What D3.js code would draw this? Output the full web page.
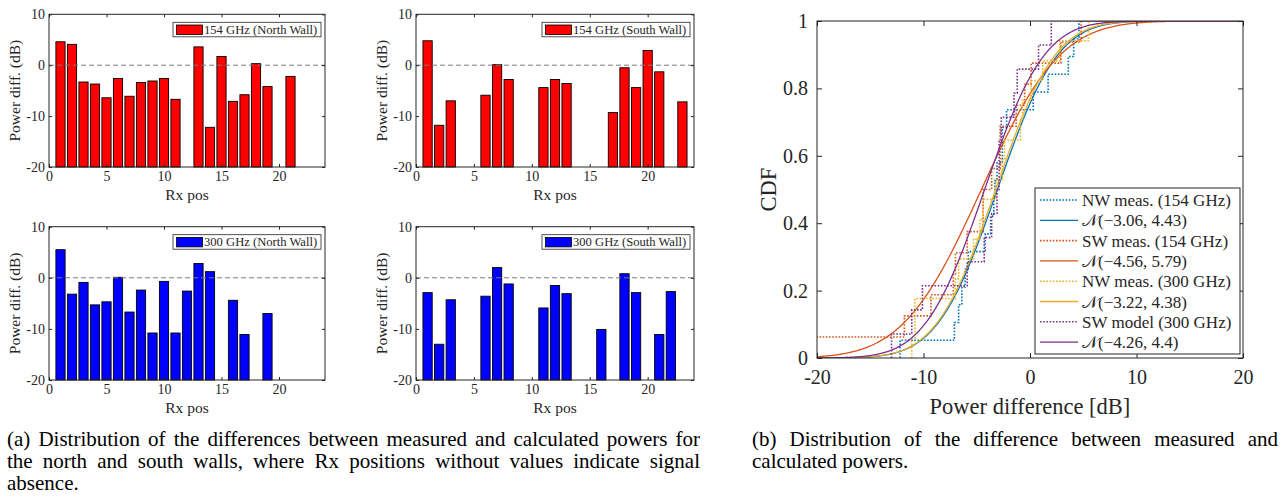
<!DOCTYPE html>
<html>
<head>
<meta charset="utf-8">
<script src="https://cdn.jsdelivr.net/npm/d3@7"></script>
<style>
  body { margin: 0; background: #fff; }
  text { font-family: "Liberation Serif", "Times New Roman", serif; fill: #262626; }
</style>
</head>
<body>
<svg id="fig" width="1286" height="499"></svg>
<script>
// ---- data ------------------------------------------------------------
// power difference (dB) per Rx position, starting at Rx pos 1 (null = no signal)
const nw154 = [4.6, 4.1, -3.3, -3.7, -6.4, -2.6, -6.1, -3.4, -3.1, -2.6, -6.7, null, 3.6, -12.2, 1.7, -7.1, -5.8, 0.3, -4.2, null, -2.2]
const sw154 = [4.8, -11.8, -7.0, null, null, -5.9, 0.1, -2.8, null, null, -4.4, -2.8, -3.6, null, null, null, -9.3, -0.5, -4.4, 2.9, -1.3, null, -7.2]
const nw300 = [5.5, -3.2, -0.9, -5.3, -4.7, 0.1, -6.7, -2.4, -10.8, -0.7, -10.8, -2.6, 2.8, 1.2, null, -4.4, -11.1, null, -7.0]
const sw300 = [-2.9, -13.0, -4.3, null, null, -3.6, 2.0, -1.2, null, null, -5.9, -1.5, -3.1, null, null, -10.1, null, 0.8, -2.9, null, -11.1, -2.7]
// one SW 154 GHz sample lies below the plotted range (flat step from -20 dB)
const sw154Below = [-25]

const barTicksX = [0, 5, 10, 15, 20]
const barTicksY = [-20, -10, 0, 10]
const cdfTicksX = [-20, -10, 0, 10, 20]
const cdfTicksY = [0, 0.2, 0.4, 0.6, 0.8, 1]

// legend entries of the CDF plot: label, mean, std
const fitNames = ["NW meas. (154 GHz)", "SW meas. (154 GHz)", "NW meas. (300 GHz)", "SW model (300 GHz)"]
const fitMu = [-3.06, -4.56, -3.22, -4.26]
const fitSigma = [4.43, 5.79, 4.38, 4.4]
const fitColors = ["#0072BD", "#D95319", "#EDB120", "#7E2F8E"]

const svg = d3.select("#fig")
const axisCol = "#262626"

// ---- bar panels ------------------------------------------------------
function barPanel(values, color, label, left, right, top, bottom) {
  const x = d3.scaleLinear().domain([0, 24]).range([left, right])
  const y = d3.scaleLinear().domain([-20, 10]).range([bottom, top])
  const g = svg.append("g")

  const pts = values.map((v, i) => ({ pos: i + 1, v })).filter(d => d.v !== null)
  const bw = x(0.8) - x(0)
  g.selectAll("rect.bar").data(pts).enter().append("rect")
    .attr("x", d => x(d.pos) - bw / 2)
    .attr("y", d => y(d.v))
    .attr("width", bw)
    .attr("height", d => y(-20) - y(d.v))
    .attr("fill", color)
    .attr("stroke", "#000")
    .attr("stroke-width", 0.9)

  // zero reference line
  g.append("line")
    .attr("x1", x(0)).attr("x2", x(24))
    .attr("y1", y(0)).attr("y2", y(0))
    .attr("stroke", "#7a7a7a").attr("stroke-width", 1)
    .attr("stroke-dasharray", "5,3")

  const ax = (a) => a.tickSizeInner(-3).tickSizeOuter(0).tickPadding(4)
  g.append("g").attr("transform", `translate(0,${bottom})`)
    .call(ax(d3.axisBottom(x).tickValues(barTicksX)))
  g.append("g").attr("transform", `translate(0,${top})`)
    .call(ax(d3.axisTop(x).tickValues(barTicksX)).tickFormat(""))
  g.append("g").attr("transform", `translate(${left},0)`)
    .call(ax(d3.axisLeft(y).tickValues(barTicksY).tickFormat(d => String(d))))
  g.append("g").attr("transform", `translate(${right},0)`)
    .call(ax(d3.axisRight(y).tickValues(barTicksY)).tickFormat(""))
  g.selectAll(".domain").remove()
  g.selectAll(".tick line").attr("stroke", axisCol)
  g.selectAll(".tick text").attr("font-size", 14).attr("font-family", null)
    .style("fill", axisCol)

  g.append("rect").attr("x", left).attr("y", top)
    .attr("width", right - left).attr("height", bottom - top)
    .attr("fill", "none").attr("stroke", axisCol).attr("stroke-width", 1)

  g.append("text").attr("x", (left + right) / 2).attr("y", bottom + 33)
    .attr("text-anchor", "middle").attr("font-size", 15.5).text("Rx pos")
  g.append("text")
    .attr("transform", `translate(${left - 29},${(top + bottom) / 2}) rotate(-90)`)
    .attr("text-anchor", "middle").attr("font-size", 15.5).text("Power diff. (dB)")

  // legend
  const lw = 148, lh = 14.5
  const lx = right - 4 - lw, ly = top + 8
  g.append("rect").attr("x", lx).attr("y", ly).attr("width", lw).attr("height", lh)
    .attr("fill", "#fff").attr("stroke", axisCol).attr("stroke-width", 0.8)
  g.append("rect").attr("x", lx + 3.5).attr("y", ly + 2.7).attr("width", 26).attr("height", 9.5)
    .attr("fill", color).attr("stroke", "#000").attr("stroke-width", 0.8)
  g.append("text").attr("x", lx + 31).attr("y", ly + 11.3)
    .attr("font-size", 12.6).text(label)
}

barPanel(nw154, "#ff0000", "154 GHz (North Wall)", 49, 325, 14.3, 167)
barPanel(sw154, "#ff0000", "154 GHz (South Wall)", 416, 694, 14.3, 167)
barPanel(nw300, "#0000ff", "300 GHz (North Wall)", 49, 325, 226.7, 380)
barPanel(sw300, "#0000ff", "300 GHz (South Wall)", 416, 694, 226.7, 380)

// ---- CDF panel ---------------------------------------------------------
const cx = d3.scaleLinear().domain([-20, 20]).range([817, 1243])
const cy = d3.scaleLinear().domain([0, 1]).range([358, 21])
const cg = svg.append("g")

svg.append("clipPath").attr("id", "cdfclip").append("rect")
  .attr("x", cx(-20)).attr("y", cy(1)).attr("width", cx(20) - cx(-20)).attr("height", cy(0) - cy(1))

// standard normal CDF via erf (Abramowitz-Stegun 7.1.26)
function erf(z) {
  const s = z < 0 ? -1 : 1
  z = Math.abs(z)
  const t = 1 / (1 + 0.3275911 * z)
  const p = t * (0.254829592 + t * (-0.284496736 + t * (1.421413741 + t * (-1.453152027 + t * 1.061405429))))
  return s * (1 - p * Math.exp(-z * z))
}
const normCdf = (xv, mu, s) => 0.5 * (1 + erf((xv - mu) / (s * Math.SQRT2)))

function ecdfPath(vals) {
  const v = vals.filter(d => d !== null).sort((a, b) => a - b)
  const n = v.length
  const pts = [[v[0], 0]]
  v.forEach((d, i) => { pts.push([d, i / n]); pts.push([d, (i + 1) / n]) })
  pts.push([20, 1])
  return d3.line().x(d => cx(d[0])).y(d => cy(d[1]))(pts)
}

const measSets = [nw154, sw154.concat(sw154Below), nw300, sw300]
const grid = d3.range(-20, 20.01, 0.1)
const plotG = cg.append("g").attr("clip-path", "url(#cdfclip)")
measSets.forEach((vals, k) => {
  plotG.append("path").attr("d", ecdfPath(vals))
    .attr("fill", "none").attr("stroke", fitColors[k]).attr("stroke-width", 1.6)
    .attr("stroke-dasharray", "1.6,1.6")
  plotG.append("path")
    .attr("d", d3.line().x(d => cx(d)).y(d => cy(normCdf(d, fitMu[k], fitSigma[k])))(grid))
    .attr("fill", "none").attr("stroke", fitColors[k]).attr("stroke-width", 1.3)
})

const cax = (a, pad) => a.tickSizeInner(-5).tickSizeOuter(0).tickPadding(pad)
cg.append("g").attr("transform", `translate(0,${cy(0)})`)
  .call(cax(d3.axisBottom(cx).tickValues(cdfTicksX).tickFormat(d => String(d)), 12))
cg.append("g").attr("transform", `translate(0,${cy(1)})`)
  .call(cax(d3.axisTop(cx).tickValues(cdfTicksX), 7).tickFormat(""))
cg.append("g").attr("transform", `translate(${cx(-20)},0)`)
  .call(cax(d3.axisLeft(cy).tickValues(cdfTicksY).tickFormat(d => String(d)), 9))
cg.append("g").attr("transform", `translate(${cx(20)},0)`)
  .call(cax(d3.axisRight(cy).tickValues(cdfTicksY), 7).tickFormat(""))
cg.selectAll(".domain").remove()
cg.selectAll(".tick line").attr("stroke", axisCol)
cg.selectAll(".tick text").attr("font-size", 20).attr("font-family", null).style("fill", axisCol)
cg.append("rect").attr("x", cx(-20)).attr("y", cy(1))
  .attr("width", cx(20) - cx(-20)).attr("height", cy(0) - cy(1))
  .attr("fill", "none").attr("stroke", axisCol).attr("stroke-width", 1)

cg.append("text").attr("x", (cx(-20) + cx(20)) / 2).attr("y", 414)
  .attr("text-anchor", "middle").attr("font-size", 22.5).text("Power difference [dB]")
cg.append("text").attr("transform", `translate(776,${(cy(0) + cy(1)) / 2}) rotate(-90)`)
  .attr("text-anchor", "middle").attr("font-size", 22.5).text("CDF")

// CDF legend
const leg = cg.append("g")
leg.append("rect").attr("x", 1035).attr("y", 188).attr("width", 205).attr("height", 166)
  .attr("fill", "#fff").attr("stroke", axisCol).attr("stroke-width", 1)
const legRows = []
fitNames.forEach((nm, k) => {
  legRows.push({ label: nm, color: fitColors[k], dotted: true })
  legRows.push({ label: `𝒩(−${Math.abs(fitMu[k])}, ${fitSigma[k]})`, color: fitColors[k], dotted: false })
})
legRows.forEach((r, i) => {
  const yy = 200 + i * 20.3
  leg.append("line").attr("x1", 1040).attr("x2", 1078).attr("y1", yy).attr("y2", yy)
    .attr("stroke", r.color).attr("stroke-width", r.dotted ? 1.6 : 1.3)
    .attr("stroke-dasharray", r.dotted ? "1.6,1.6" : null)
  leg.append("text").attr("x", 1082).attr("y", yy + 6).attr("font-size", 17).text(r.label)
})

// ---- captions ------------------------------------------------------------
const capA = [
  "(a) Distribution of the differences between measured and calculated powers for",
  "the north and south walls, where Rx positions without values indicate signal",
  "absence."
]
const capB = [
  "(b) Distribution of the difference between measured and",
  "calculated powers."
]
function caption(lines, x0, width, y0) {
  lines.forEach((ln, i) => {
    const t = svg.append("text").attr("x", x0).attr("y", y0 + i * 22)
      .attr("font-size", 21).style("fill", "#000").text(ln)
    if (i < lines.length - 1) {
      // justify by widening the word gaps only
      const gaps = ln.split(" ").length - 1
      const extra = (width - t.node().getComputedTextLength()) / gaps
      t.attr("word-spacing", extra)
    }
  })
}
caption(capA, 7, 693, 446)
caption(capB, 752, 526, 446)
</script>
</body>
</html>
